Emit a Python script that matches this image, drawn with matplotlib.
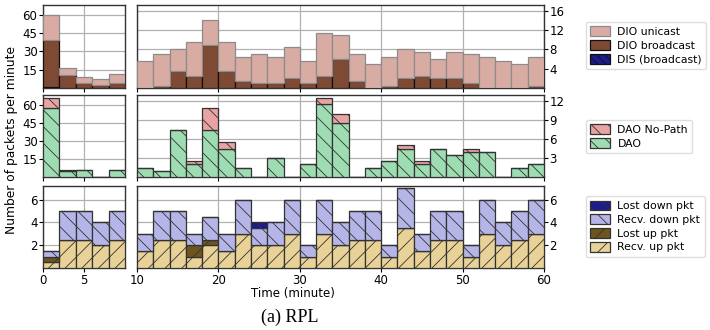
"""Per-minute packet counts for RPL, split into a zoomed first 10 minutes and the rest."""

import matplotlib
matplotlib.use("Agg")
import matplotlib.pyplot as plt
import numpy as np

# ---- data (bins of 2 minutes) ----
left_edges = [0, 2, 4, 6, 8]
right_edges = list(range(10, 60, 2))

# top row: DIO / DIS
dio_bcast_left = [38.8, 10.6, 4.3, 2.2, 4.3]
dio_ucast_left = [20.2, 6.0, 5.0, 5.4, 7.2]
dis_left = [0.6, 0, 0, 0, 0]
dio_bcast_right = [0, 0.5, 3.5, 2.5, 9, 3.5, 1.5, 1, 1, 2, 1, 2.5, 6, 1.5, 0,
                   0.5, 2, 2.5, 2, 2, 1, 0, 0, 0, 0.5]
dio_total_right = [5.5, 7, 8, 9.5, 14, 9.5, 6.5, 7, 6.5, 8.5, 5.5, 11.5, 11, 7, 5,
                   6.5, 8, 7.5, 6, 7.5, 7, 6.5, 5.5, 5, 6.5]
dio_ucast_right = [t - b for t, b in zip(dio_total_right, dio_bcast_right)]
dis_right = [0] * 25

# middle row: DAO
dao_left = [57, 5, 5.5, 0, 5.5]
nopath_left = [8.5, 0.5, 0, 0, 0]
dao_right = [1.5, 1, 7.5, 2, 7.5, 4.5, 1.5, 0, 3, 0, 2, 11.5, 8.5, 0, 1.5, 2.5,
             4.5, 2, 4.5, 3.5, 4, 4, 0, 1.5, 2]
nopath_right = [0, 0, 0, 0.5, 3.5, 1, 0, 0, 0, 0, 0, 1, 1.5, 0, 0, 0, 0.5, 0.5,
                0, 0, 0.5, 0, 0, 0, 0]

# bottom row: packets
recv_up_left = [0.5, 2.5, 2.5, 2, 2.5]
lost_up_left = [0.5, 0, 0, 0, 0]
recv_down_left = [0.5, 2.5, 2.5, 2, 2.5]
lost_down_left = [0, 0, 0, 0, 0]
recv_up_right = [1.5, 2.5, 2.5, 1, 2, 1.5, 3, 2, 2, 3, 1, 3, 2, 2.5, 2.5, 1, 3.5,
                 1.5, 2.5, 2.5, 1, 3, 2, 2.5, 3]
lost_up_right = [0, 0, 0, 1, 0.5, 0, 0, 0, 0, 0, 0, 0, 0, 0, 0, 0, 0, 0, 0, 0, 0,
                 0, 0, 0, 0]
recv_down_right = [1.5, 2.5, 2.5, 1, 2, 1.5, 3, 1.5, 2, 3, 1, 3, 2, 2.5, 2.5, 1,
                   3.5, 1.5, 2.5, 2.5, 1, 3, 2, 2.5, 3]
lost_down_right = [0, 0, 0, 0, 0, 0, 0, 0.5, 0, 0, 0, 0, 0, 0, 0, 0, 0, 0, 0, 0,
                   0, 0, 0, 0, 0]

# ---- styles ----
C_UCAST = "#d9aca3"
C_BCAST = "#7e4a34"
C_DIS = "#1c1c8c"
C_NOPATH = "#e8a3a3"
C_DAO = "#9edcb2"
C_LDOWN = "#1c1c8c"
C_RDOWN = "#b5b5e8"
C_LUP = "#6e5520"
C_RUP = "#e8d298"

plt.rcParams["hatch.linewidth"] = 0.6
plt.rcParams["hatch.color"] = "#555555"

fig = plt.figure(figsize=(7.1, 3.3), dpi=100)
W, H = 710, 330


def add_ax(x0, y0, x1, y1):
    return fig.add_axes([x0 / W, 1 - y1 / H, (x1 - x0) / W, (y1 - y0) / H])


rows = [(5, 88), (95, 177), (186, 268)]
axes = []
for y0, y1 in rows:
    axes.append((add_ax(43, y0, 125, y1), add_ax(137, y0, 544, y1)))


def stack(ax, edges, layers):
    """layers: list of (values, color, hatch, edgecolor, label) bottom to top."""
    bottom = np.zeros(len(edges))
    handles = []
    for vals, color, hatch, ec, label in layers:
        vals = np.asarray(vals, dtype=float)
        h = ax.bar(edges, vals, width=2, bottom=bottom, align="edge",
                   color=color, edgecolor=ec, linewidth=0.9, hatch=hatch,
                   label=label, zorder=3)
        bottom = bottom + vals
        handles.append(h)
    return handles


top_layers = lambda d, b, u: [
    (d, C_DIS, "\\\\\\\\", "#111111", "DIS (broadcast)"),
    (b, C_BCAST, None, "#111111", "DIO broadcast"),
    (u, C_UCAST, None, "#8c8c8c", "DIO unicast"),
]
stack(axes[0][0], left_edges, top_layers(dis_left, dio_bcast_left, dio_ucast_left))
h_top = stack(axes[0][1], right_edges, top_layers(dis_right, dio_bcast_right, dio_ucast_right))

mid_layers = lambda d, n: [
    (d, C_DAO, "\\\\", "#333333", "DAO"),
    (n, C_NOPATH, "\\\\", "#333333", "DAO No-Path"),
]
stack(axes[1][0], left_edges, mid_layers(dao_left, nopath_left))
h_mid = stack(axes[1][1], right_edges, mid_layers(dao_right, nopath_right))

bot_layers = lambda ru, lu, rd, ld: [
    (ru, C_RUP, "//", "#333333", "Recv. up pkt"),
    (lu, C_LUP, "//", "#333333", "Lost up pkt"),
    (rd, C_RDOWN, "\\\\", "#333333", "Recv. down pkt"),
    (ld, C_LDOWN, "\\\\", "#333333", "Lost down pkt"),
]
stack(axes[2][0], left_edges, bot_layers(recv_up_left, lost_up_left, recv_down_left, lost_down_left))
h_bot = stack(axes[2][1], right_edges, bot_layers(recv_up_right, lost_up_right, recv_down_right, lost_down_right))

# ---- axes formatting ----
left_ylim = [68, 68, 7.2]
right_ylim = [17.2, 13, 7.2]
left_ticks = [[15, 30, 45, 60], [15, 30, 45, 60], [2, 4, 6]]
right_ticks = [[4, 8, 12, 16], [3, 6, 9, 12], [2, 4, 6]]

for i, (axl, axr) in enumerate(axes):
    axl.set_xlim(0, 10)
    axr.set_xlim(10, 60)
    axl.set_ylim(0, left_ylim[i])
    axr.set_ylim(0, right_ylim[i])
    axl.set_xticks([0, 5])
    axr.set_xticks(range(10, 61, 10))
    axl.set_yticks(left_ticks[i])
    axr.set_yticks(right_ticks[i])
    axr.yaxis.tick_right()
    for ax in (axl, axr):
        ax.grid(True, color="#b0b0b0", linewidth=0.9, zorder=0)
        ax.set_axisbelow(True)
        ax.tick_params(labelsize=8.5, length=3, pad=1)
        for s in ax.spines.values():
            s.set_color("#333333")
            s.set_linewidth(1.0)
        if i < 2:
            ax.tick_params(labelbottom=False)

fig.text(12 / W, 1 - 140 / H, "Number of packets per minute", rotation=90,
         ha="center", va="center", fontsize=8.8)
fig.text(293 / W, 1 - 294 / H, "Time (minute)", ha="center", va="center", fontsize=8.5)
fig.text(290 / W, 1 - 317 / H, "(a) RPL", ha="center", va="center", fontsize=13,
         family="Liberation Serif")

# ---- legends ----
leg_kw = dict(loc="center left", fontsize=7.8, frameon=True, framealpha=1,
              edgecolor="#dddddd", handlelength=1.8, handleheight=1.0,
              borderpad=0.4, labelspacing=0.3, handletextpad=0.7, borderaxespad=0)
fig.legend(h_top[::-1], [h.get_label() for h in h_top[::-1]],
           bbox_to_anchor=(586 / W, 1 - 45.5 / H), **leg_kw)
fig.legend(h_mid[::-1], [h.get_label() for h in h_mid[::-1]],
           bbox_to_anchor=(586 / W, 1 - 136.5 / H), **leg_kw)
fig.legend(h_bot[::-1], [h.get_label() for h in h_bot[::-1]],
           bbox_to_anchor=(586 / W, 1 - 226.5 / H), **leg_kw)

fig.savefig("out.png", dpi=100)
